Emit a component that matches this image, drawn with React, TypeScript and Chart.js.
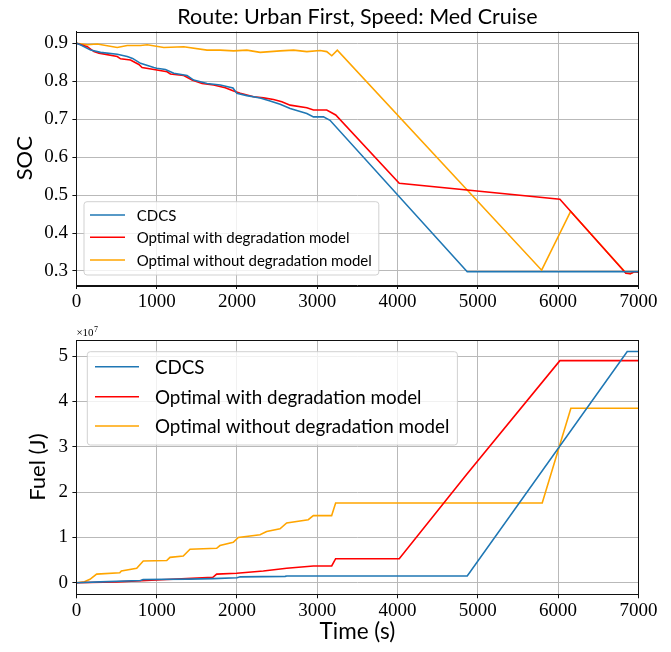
import React, { useEffect, useRef } from "react";
import { Chart, registerables } from "chart.js";

Chart.register(...registerables);

const SANS = "Lato, 'Open Sans', 'DejaVu Sans', sans-serif";
const SERIF = "'Liberation Serif', 'DejaVu Serif', serif";

const TITLE = "Route: Urban First, Speed: Med Cruise";
const SERIES_LABELS = ["CDCS", "Optimal with degradation model", "Optimal without degradation model"];
const SERIES_COLORS = ["#1f77b4", "#ff0000", "#ffa500"];

const timeTicks = [0, 1000, 2000, 3000, 4000, 5000, 6000, 7000];
const socTicks = [0.3, 0.4, 0.5, 0.6, 0.7, 0.8, 0.9];
const fuelTicks = [0, 1, 2, 3, 4, 5]; // ×10^7 J

// SOC series (time in s)
const socCdcsT = [0, 50, 177, 301, 509, 633, 700, 799, 964, 1000, 1109, 1213, 1378, 1461, 1627, 1792, 1950, 1999, 2123, 2289, 2413, 2538, 2662, 2870, 2953, 3077, 3159, 4868, 7000];
const socCdcsV = [0.9, 0.896, 0.882, 0.876, 0.871, 0.865, 0.86, 0.847, 0.836, 0.834, 0.831, 0.821, 0.815, 0.803, 0.794, 0.79, 0.782, 0.768, 0.762, 0.756, 0.748, 0.739, 0.728, 0.715, 0.706, 0.706, 0.697, 0.298, 0.298];

const socDegT = [0, 136, 219, 281, 509, 550, 674, 778, 818, 985, 1130, 1171, 1337, 1441, 1565, 1709, 1854, 1958, 2041, 2207, 2331, 2455, 2559, 2662, 2870, 2953, 3118, 3230, 4021, 6022, 6844, 6900, 6950, 7000];
const socDegV = [0.9, 0.891, 0.878, 0.874, 0.865, 0.859, 0.856, 0.844, 0.836, 0.83, 0.825, 0.819, 0.815, 0.803, 0.794, 0.79, 0.783, 0.774, 0.768, 0.759, 0.756, 0.752, 0.746, 0.737, 0.73, 0.724, 0.724, 0.711, 0.531, 0.489, 0.294, 0.293, 0.298, 0.297];

const socNoDegT = [0, 136, 260, 509, 633, 799, 882, 1089, 1337, 1627, 1792, 1958, 2123, 2289, 2538, 2705, 2870, 3036, 3118, 3181, 3250, 5795, 6156, 6844, 6900, 6950, 7000];
const socNoDegV = [0.9, 0.896, 0.898, 0.889, 0.894, 0.894, 0.896, 0.889, 0.891, 0.882, 0.882, 0.88, 0.882, 0.876, 0.88, 0.882, 0.878, 0.881, 0.878, 0.867, 0.882, 0.302, 0.457, 0.295, 0.293, 0.298, 0.298];

// Fuel series (×10^7 J)
const fuelCdcsT = [0, 300, 800, 830, 1400, 1700, 2000, 2040, 2600, 2620, 4868, 6861, 7000];
const fuelCdcsV = [0, 0.02, 0.05, 0.07, 0.08, 0.09, 0.11, 0.13, 0.14, 0.15, 0.15, 5.1, 5.1];

const fuelDegT = [0, 500, 1125, 1373, 1700, 1747, 1996, 2328, 2619, 2951, 3180, 3229, 4021, 4860, 6022, 7000];
const fuelDegV = [0, 0.02, 0.07, 0.09, 0.12, 0.19, 0.21, 0.26, 0.32, 0.37, 0.37, 0.53, 0.53, 2.39, 4.9, 4.9];

const fuelNoDegT = [0, 100, 169, 252, 540, 560, 751, 833, 1125, 1166, 1331, 1415, 1747, 1788, 1954, 2017, 2287, 2370, 2536, 2619, 2888, 2951, 3179, 3229, 5802, 6159, 7000];
const fuelNoDegV = [0, 0.02, 0.075, 0.19, 0.22, 0.26, 0.32, 0.48, 0.49, 0.56, 0.59, 0.74, 0.76, 0.82, 0.89, 1.0, 1.06, 1.13, 1.19, 1.32, 1.39, 1.48, 1.48, 1.76, 1.76, 3.85, 3.85];

const pts = (t: number[], v: number[]) => t.map((x, i) => ({ x, y: v[i] }));

const makeDatasets = (series: [number[], number[]][]) =>
  series.map(([t, v], i) => ({
    label: SERIES_LABELS[i],
    data: pts(t, v),
    borderColor: SERIES_COLORS[i],
    backgroundColor: SERIES_COLORS[i],
    borderWidth: 1.6,
    pointRadius: 0,
    tension: 0,
    fill: false,
  }));

const GRID = "#b9b9b9";

const framePlugin = {
  id: "frame",
  afterDatasetsDraw(chart: any) {
    const { ctx, chartArea: a } = chart;
    ctx.save();
    ctx.strokeStyle = "#111";
    ctx.lineWidth = 1;
    ctx.strokeRect(Math.round(a.left) + 0.5, Math.round(a.top) + 0.5, Math.round(a.right - a.left), Math.round(a.bottom - a.top));
    ctx.restore();
  },
};

function legendPlugin(cfg: any) {
  return {
    id: "customLegend",
    afterDraw(chart: any) {
      const { ctx, chartArea: a } = chart;
      const ds = chart.data.datasets;
      ctx.save();
      ctx.font = `${cfg.fontSize}px ${SANS}`;
      let tw = 0;
      ds.forEach((d: any) => (tw = Math.max(tw, ctx.measureText(d.label).width)));
      const w = cfg.textX + tw + cfg.padRight;
      const h = cfg.h;
      const x0 = a.left + cfg.dx;
      const y0 = cfg.fromBottom ? a.bottom - cfg.dy - h : a.top + cfg.dy;
      const r = 3;
      ctx.beginPath();
      ctx.moveTo(x0 + r, y0);
      ctx.lineTo(x0 + w - r, y0);
      ctx.quadraticCurveTo(x0 + w, y0, x0 + w, y0 + r);
      ctx.lineTo(x0 + w, y0 + h - r);
      ctx.quadraticCurveTo(x0 + w, y0 + h, x0 + w - r, y0 + h);
      ctx.lineTo(x0 + r, y0 + h);
      ctx.quadraticCurveTo(x0, y0 + h, x0, y0 + h - r);
      ctx.lineTo(x0, y0 + r);
      ctx.quadraticCurveTo(x0, y0, x0 + r, y0);
      ctx.closePath();
      ctx.fillStyle = "rgba(255,255,255,0.8)";
      ctx.fill();
      ctx.strokeStyle = "rgba(204,204,204,0.9)";
      ctx.lineWidth = 1;
      ctx.stroke();
      ds.forEach((d: any, i: number) => {
        const cy = y0 + cfg.rows[i];
        ctx.strokeStyle = d.borderColor;
        ctx.lineWidth = 1.6;
        ctx.beginPath();
        ctx.moveTo(x0 + cfg.h0, cy);
        ctx.lineTo(x0 + cfg.h1, cy);
        ctx.stroke();
        ctx.fillStyle = "#000";
        ctx.textAlign = "left";
        ctx.textBaseline = "middle";
        ctx.fillText(d.label, x0 + cfg.textX, cy + 1);
      });
      ctx.restore();
    },
  };
}

const exponentPlugin = {
  id: "exponent",
  afterDraw(chart: any) {
    const { ctx, chartArea: a } = chart;
    ctx.save();
    ctx.fillStyle = "#000";
    ctx.textAlign = "left";
    ctx.textBaseline = "alphabetic";
    ctx.font = `11px ${SERIF}`;
    const base = "\u00d710";
    ctx.fillText(base, a.left, a.top - 4);
    const bw = ctx.measureText(base).width;
    ctx.font = `8px ${SERIF}`;
    ctx.fillText("7", a.left + bw + 0.5, a.top - 8);
    ctx.restore();
  },
};

const tickFont = { family: SERIF, size: 19 };
const gridCfg = { color: GRID, lineWidth: 1, tickColor: "#111", tickLength: 4, tickWidth: 1 };

function xScale(height: number, withTitle: boolean) {
  return {
    type: "linear",
    min: 0,
    max: 7000,
    afterBuildTicks: (s: any) => {
      s.ticks = timeTicks.map((v) => ({ value: v }));
    },
    afterFit: (s: any) => {
      s.height = height;
    },
    ticks: { font: tickFont, color: "#000", padding: 1.5, maxRotation: 0, autoSkip: false, callback: (v: any) => String(v) },
    grid: gridCfg,
    border: { display: true, color: "#111" },
    title: withTitle
      ? { display: true, text: "Time (s)", font: { family: SANS, size: 22.5 }, color: "#000", padding: { top: 0, bottom: 7 } }
      : { display: false },
  };
}

function TopChart() {
  const ref = useRef<HTMLCanvasElement>(null);
  useEffect(() => {
    const chart = new Chart(ref.current as HTMLCanvasElement, {
      type: "line",
      data: {
        datasets: makeDatasets([
          [socCdcsT, socCdcsV],
          [socDegT, socDegV],
          [socNoDegT, socNoDegV],
        ]) as any,
      },
      options: {
        animation: false,
        responsive: false,
        events: [],
        layout: { padding: { top: 0, right: 32.6, bottom: 0, left: 0 } },
        plugins: {
          legend: { display: false },
          tooltip: { enabled: false },
          title: {
            display: true,
            fullSize: false,
            text: TITLE,
            color: "#000",
            font: { family: SANS, size: 21.5, weight: "normal" },
            padding: { top: 4.5, bottom: 1.2 },
          },
        },
        scales: {
          x: xScale(35, false) as any,
          y: {
            type: "linear",
            min: 0.263,
            max: 0.931,
            afterBuildTicks: (s: any) => {
              s.ticks = socTicks.map((v) => ({ value: v }));
            },
            afterFit: (s: any) => {
              s.width = 76.4;
            },
            ticks: { font: tickFont, color: "#000", padding: 4.4, callback: (v: any) => Number(v).toFixed(1) },
            grid: gridCfg,
            border: { display: true, color: "#111" },
            title: { display: true, text: "SOC", font: { family: SANS, size: 22 }, color: "#000", padding: { top: 12, bottom: 0 } },
          } as any,
        },
      },
      plugins: [
        framePlugin,
        legendPlugin({ fontSize: 15, dx: 7.6, dy: 10, fromBottom: true, h: 73.3, h0: 6, h1: 41, textX: 52.7, padRight: 7, rows: [13.3, 35.6, 58.3] }),
      ],
    });
    return () => chart.destroy();
  }, []);
  return <canvas ref={ref} width={671} height={320} style={{ position: "absolute", left: 0, top: 0, width: 671, height: 320 }} />;
}

function BottomChart() {
  const ref = useRef<HTMLCanvasElement>(null);
  useEffect(() => {
    const chart = new Chart(ref.current as HTMLCanvasElement, {
      type: "line",
      data: {
        datasets: makeDatasets([
          [fuelCdcsT, fuelCdcsV],
          [fuelDegT, fuelDegV],
          [fuelNoDegT, fuelNoDegV],
        ]) as any,
      },
      options: {
        animation: false,
        responsive: false,
        events: [],
        layout: { padding: { top: 25, right: 32.6, bottom: 0, left: 0 } },
        plugins: { legend: { display: false }, tooltip: { enabled: false }, title: { display: false } },
        scales: {
          x: xScale(57.7, true) as any,
          y: {
            type: "linear",
            min: -0.255,
            max: 5.355,
            afterBuildTicks: (s: any) => {
              s.ticks = fuelTicks.map((v) => ({ value: v }));
            },
            afterFit: (s: any) => {
              s.width = 76.4;
            },
            ticks: { font: tickFont, color: "#000", padding: 4.4, callback: (v: any) => String(v) },
            grid: gridCfg,
            border: { display: true, color: "#111" },
            title: { display: true, text: "Fuel (J)", font: { family: SANS, size: 22 }, color: "#000", padding: { top: 25, bottom: 0 } },
          } as any,
        },
      },
      plugins: [
        framePlugin,
        exponentPlugin,
        legendPlugin({ fontSize: 18.8, dx: 10.9, dy: 11.7, fromBottom: false, h: 93.3, h0: 7.7, h1: 51.7, textX: 67.7, padRight: 8, rows: [15, 45, 74.3] }),
      ],
    });
    return () => chart.destroy();
  }, []);
  return <canvas ref={ref} width={671} height={337} style={{ position: "absolute", left: 0, top: 315, width: 671, height: 337 }} />;
}

export default function App() {
  return (
    <div style={{ position: "absolute", left: 0, top: 0, width: 671, height: 652, background: "#fff" }}>
      <TopChart />
      <BottomChart />
    </div>
  );
}
